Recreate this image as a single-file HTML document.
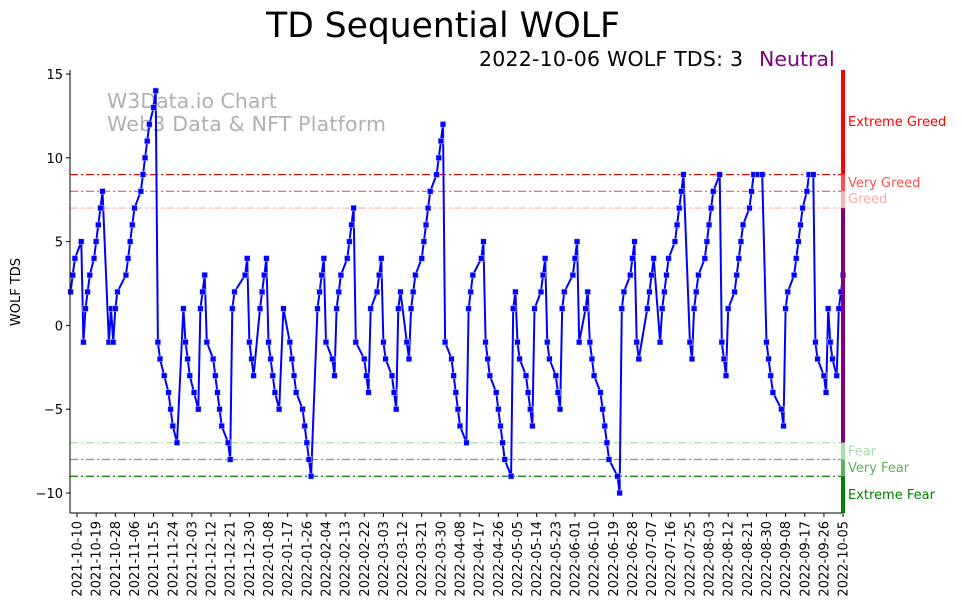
<!DOCTYPE html>
<html><head><meta charset="utf-8"><style>
body{margin:0;background:#fff;}
svg{display:block;font-family:"DejaVu Sans","Liberation Sans",sans-serif;}
</style></head><body>
<svg id="chart" width="962" height="613" xmlns="http://www.w3.org/2000/svg">
<text x="443" y="37" font-size="34.5" text-anchor="middle" fill="#000">TD Sequential WOLF</text>
<text x="743" y="66" font-size="20.5" text-anchor="end" fill="#000" textLength="264">2022-10-06 WOLF TDS: 3</text>
<text x="759" y="66" font-size="20.5" fill="#800080">Neutral</text>
<text x="107" y="108" font-size="20.5" fill="#b0b0b0">W3Data.io Chart</text>
<text x="107" y="131" font-size="20.5" fill="#b0b0b0" textLength="279">Web3 Data &amp; NFT Platform</text>
<text transform="translate(20,292) rotate(-90)" font-size="13" text-anchor="middle">WOLF TDS</text>
<g id="grid"></g><g id="series"></g><g id="axes"></g>
</svg>
<script>
const days=[-3,-2,-1,2,3,4,5,6,8,9,10,11,12,15,16,17,18,19,23,24,25,26,27,30,31,32,33,34,36,37,38,39,41,43,44,45,47,50,51,52,53,55,57,58,59,60,61,64,65,66,67,68,71,72,73,74,79,80,81,82,83,86,87,88,89,90,91,92,93,95,97,100,101,102,103,106,107,108,109,110,113,114,115,116,117,120,121,122,123,124,127,128,129,130,131,135,136,137,138,141,142,143,144,145,148,149,150,151,152,155,156,157,158,159,162,163,164,165,166,169,170,171,172,173,176,177,178,179,180,183,184,185,186,190,191,192,193,194,197,198,199,200,201,204,205,206,207,208,211,212,213,214,215,218,219,220,221,222,225,226,227,228,229,233,234,235,236,239,240,241,242,243,246,247,248,249,250,254,255,256,257,260,261,262,263,264,268,269,270,271,274,275,276,277,278,281,282,283,284,285,288,289,290,291,292,295,296,297,298,299,302,303,304,305,306,309,310,311,312,313,316,317,318,320,322,324,325,326,327,331,332,333,334,337,338,339,340,341,343,344,346,347,348,351,352,353,354,355,357,358,359,360];
const values=[2,3,4,5,-1,1,2,3,4,5,6,7,8,-1,1,-1,1,2,3,4,5,6,7,8,9,10,11,12,13,14,-1,-2,-3,-4,-5,-6,-7,1,-1,-2,-3,-4,-5,1,2,3,-1,-2,-3,-4,-5,-6,-7,-8,1,2,3,4,-1,-2,-3,1,2,3,4,-1,-2,-3,-4,-5,1,-1,-2,-3,-4,-5,-6,-7,-8,-9,1,2,3,4,-1,-2,-3,1,2,3,4,5,6,7,-1,-2,-3,-4,1,2,3,4,-1,-2,-3,-4,-5,1,2,-1,-2,1,2,3,4,5,6,7,8,9,10,11,12,-1,-2,-3,-4,-5,-6,-7,1,2,3,4,5,-1,-2,-3,-4,-5,-6,-7,-8,-9,1,2,-1,-2,-3,-4,-5,-6,1,2,3,4,-1,-2,-3,-4,-5,1,2,3,4,5,-1,1,2,-1,-2,-3,-4,-5,-6,-7,-8,-9,-10,1,2,3,4,5,-1,-2,1,2,3,4,-1,1,2,3,4,5,6,7,8,9,-1,-2,1,2,3,4,5,6,7,8,9,-1,-2,-3,1,2,3,4,5,6,7,8,9,9,9,-1,-2,-3,-4,-5,-6,1,2,3,4,5,6,7,8,9,9,-1,-2,-3,-4,1,-1,-2,-3,1,2,3];
const yTicks=[15,10,5,0,-5,-10];
const levelValues=[9,8,7,-7,-8,-9];
const levelColors=["#ff0000","#ff5050","#ffaaaa","#a8dca8","#5fb05f","#008000"];
const zoneLabels=["Extreme Greed","Very Greed","Greed","Fear","Very Fear","Extreme Fear"];
const zoneLabelValues=[12.2,8.55,7.6,-7.45,-8.45,-10.05];
const startDate=Date.UTC(2021,9,10);
const tickStep=9, tickCount=41;

const NS="http://www.w3.org/2000/svg";
const L=70,R=842,T=70,B=513,X0=77,PXD=2.128;
const xs=d=>X0+d*PXD;
const ys=v=>325.4-v*16.76;
function mk(tag,attrs,parent){const e=document.createElementNS(NS,tag);for(const k in attrs)e.setAttribute(k,attrs[k]);parent.appendChild(e);return e;}
const grid=document.getElementById('grid'),series=document.getElementById('series'),axes=document.getElementById('axes');

levelValues.forEach((v,i)=>{
  const l=mk('line',{x1:L,x2:R,y1:ys(v),y2:ys(v),stroke:levelColors[i],'stroke-width':1.2,'stroke-dasharray':'8,3,2,3'},grid);
  
  
});

let pts=days.map((d,i)=>xs(d).toFixed(1)+','+ys(values[i]).toFixed(1)).join(' ');
const pl=mk('polyline',{points:pts,fill:'none',stroke:'#0000ff','stroke-width':2,'stroke-linejoin':'round'},series);


days.forEach((d,i)=>{
  const r=mk('rect',{x:xs(d)-2.8,y:ys(values[i])-2.8,width:5.6,height:5.6,fill:'#0000ff',stroke:'#ccccff','stroke-width':0.5},series);
  
  
});

const zoneBounds=[[15.3,9,"#ff0000"],[9,8,"#ff5050"],[8,7,"#ffb0b0"],[7,-7,"#800080"],[-7,-8,"#a8dca8"],[-8,-9,"#5fb05f"],[-9,-11.2,"#008000"]];
zoneBounds.forEach(z=>{
  const r=mk('rect',{x:R-1,y:Math.max(T,ys(z[0])),width:4,height:Math.min(B,ys(z[1]))-Math.max(T,ys(z[0])),fill:z[2]},axes);
  
  
});
zoneLabels.forEach((t,i)=>{
  const e=mk('text',{x:848,y:ys(zoneLabelValues[i])+5,'font-size':13,fill:levelColors[i]},axes);
  e.textContent=t;
  
  
});

const ls=mk('line',{x1:L,x2:L,y1:T,y2:B,stroke:'#000','stroke-width':1},axes);


const bs=mk('line',{x1:L,x2:R,y1:B,y2:B,stroke:'#000','stroke-width':1},axes);



yTicks.forEach(v=>{
  mk('line',{x1:L-4,x2:L,y1:ys(v),y2:ys(v),stroke:'#000'},axes);
  const t=mk('text',{x:L-7,y:ys(v)+5,'font-size':13,'text-anchor':'end'},axes);
  t.textContent=(v<0?'\u2212'+(-v):String(v));
  
  
});
for(let i=0;i<tickCount;i++){
  const d=i*tickStep,x=xs(d);
  mk('line',{x1:x,x2:x,y1:B,y2:B+4,stroke:'#000'},axes);
  const ds=new Date(startDate+d*86400000).toISOString().slice(0,10);
  const t=mk('text',{transform:`translate(${x+4.5},${B+8}) rotate(-90)`,'font-size':13,'text-anchor':'end'},axes);
  t.textContent=ds;
  
  
}
</script>
</body></html>
